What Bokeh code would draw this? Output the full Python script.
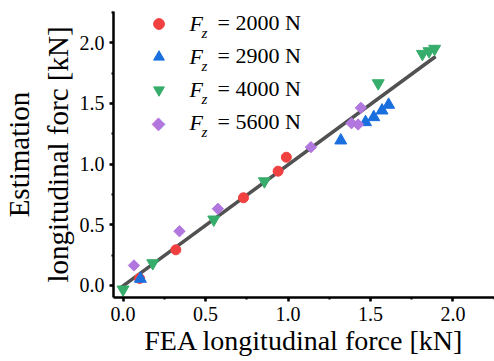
from bokeh.plotting import figure
from bokeh.models import (Range1d, SingleIntervalTicker, Legend, LegendItem, Label,
                          PrintfTickFormatter)
from bokeh.embed import file_html
from bokeh.resources import INLINE
import numpy as np

# ---- data ----
red_x = [0.10, 0.32, 0.73, 0.94, 0.99]
red_y = [0.058, 0.294, 0.723, 0.942, 1.057]
blue_x = [0.105, 1.32, 1.47, 1.52, 1.57, 1.61]
blue_y = [0.055, 1.195, 1.346, 1.387, 1.442, 1.489]
green_x = [0.0, 0.18, 0.55, 0.857, 1.547, 1.815, 1.855, 1.889]
green_y = [-0.033, 0.184, 0.544, 0.859, 1.667, 1.909, 1.931, 1.951]
purple_x = [0.066, 0.342, 0.575, 1.139, 1.385, 1.425, 1.442]
purple_y = [0.165, 0.447, 0.632, 1.14, 1.337, 1.327, 1.464]
fit_x = [-0.01, 1.895]
fit_y = [-0.014, 1.887]
series_labels = ["2000 N", "2900 N", "4000 N", "5600 N"]

SERIF = "Liberation Serif"
RED, BLUE, GREEN, PURPLE = "#F14040", "#1A6FDF", "#37AD6B", "#B177DE"

p = figure(width=494, height=361, output_backend="svg", toolbar_location=None,
           x_range=Range1d(-0.058, 2.252), y_range=Range1d(-0.099, 2.258),
           min_border_left=112, min_border_right=0, min_border_top=11,
           min_border_bottom=64)
p.outline_line_color = None
p.grid.visible = False
p.background_fill_color = "white"
p.border_fill_color = "white"

p.line(fit_x, fit_y, line_color="#515151", line_width=3.5)

r1 = p.scatter(red_x, red_y, marker="circle", size=10, fill_color=RED, line_color=RED)
r2 = p.scatter(blue_x, blue_y, marker="triangle", size=12, fill_color=BLUE, line_color=BLUE)
r3 = p.scatter(green_x, green_y, marker="inverted_triangle", size=12, fill_color=GREEN, line_color=GREEN)
r4 = p.scatter(purple_x, purple_y, marker="square", angle=np.pi / 4, size=8, fill_color=PURPLE, line_color=PURPLE)
# placeholder renderer for the legend's purple entry (its diamond is drawn as a label)
r4_leg = p.scatter(x=[], y=[], marker="square", fill_alpha=0, line_alpha=0)

for ax in (p.xaxis[0], p.yaxis[0]):
    ax.ticker = SingleIntervalTicker(interval=0.5, num_minor_ticks=2)
    ax.formatter = PrintfTickFormatter(format="%.1f")
    ax.axis_line_width = 2.5
    ax.axis_line_color = "black"
    ax.major_tick_line_width = 2.5
    ax.major_tick_line_color = "black"
    ax.major_tick_out = 4
    ax.major_tick_in = 0
    ax.minor_tick_line_width = 2
    ax.minor_tick_line_color = "black"
    ax.minor_tick_out = 2
    ax.minor_tick_in = 0
    ax.major_label_text_font = SERIF
    ax.major_label_text_font_style = "normal"
    ax.major_label_text_font_size = "20px"
    ax.major_label_text_color = "black"
    ax.axis_label_text_font = SERIF
    ax.axis_label_text_font_style = "normal"
    ax.axis_label_text_color = "black"
    ax.axis_label_text_font_size = "28px"

p.xaxis[0].axis_label = "FEA longitudinal force [kN]"
p.xaxis[0].major_label_standoff = 5
p.xaxis[0].axis_label_standoff = 1
p.yaxis[0].axis_label = "Estimation\nlongitudinal forc [kN]"
p.yaxis[0].major_label_standoff = 5
p.yaxis[0].axis_label_standoff = 3
p.yaxis[0].axis_label_text_font_size = "29px"

items = [LegendItem(label="= " + s, renderers=[r]) for s, r in zip(series_labels, [r1, r2, r3, r4_leg])]
legend = Legend(items=items, location=(31.5, 161.5), orientation="vertical",
                glyph_width=27, glyph_height=27, label_height=27, spacing=6,
                padding=0, margin=0, label_standoff=46,
                label_text_font=SERIF, label_text_font_size="22px",
                label_text_color="black", border_line_color=None,
                background_fill_alpha=0)
p.add_layout(legend, "center")

row_y = [274, 241, 208, 175]
for yy in row_y:
    p.add_layout(Label(x=76, y=yy, x_units="screen", y_units="screen", text="F",
                       text_font=SERIF, text_font_style="italic", text_font_size="22px",
                       text_baseline="middle", text_align="left", text_color="black"))
    p.add_layout(Label(x=88, y=yy - 9, x_units="screen", y_units="screen", text="z",
                       text_font=SERIF, text_font_style="italic", text_font_size="15px",
                       text_baseline="middle", text_align="left", text_color="black"))

p.add_layout(Label(x=45, y=row_y[3], x_units="screen", y_units="screen", text="\u25C6",
                   text_font="DejaVu Sans", text_font_size="18px", text_color=PURPLE,
                   text_baseline="middle", text_align="center"))

open("out.html", "w").write(file_html(p, INLINE))
